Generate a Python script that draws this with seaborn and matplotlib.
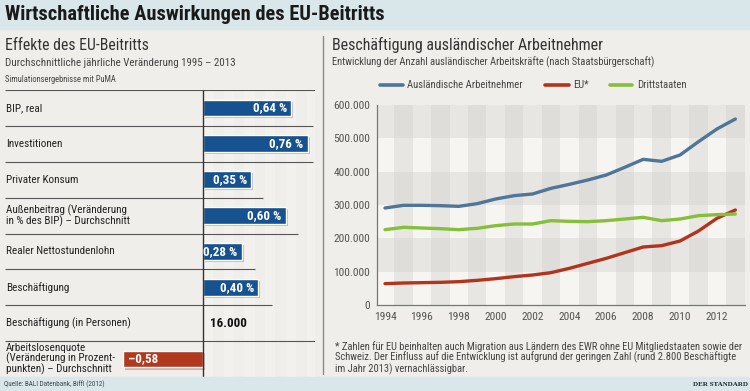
import numpy as np
import pandas as pd
import matplotlib
matplotlib.use("Agg")
import matplotlib.pyplot as plt
import matplotlib.patheffects as pe
import matplotlib.transforms as mtransforms
from matplotlib import font_manager
from matplotlib.lines import Line2D
from matplotlib.patches import Rectangle
from matplotlib.ticker import FuncFormatter, MultipleLocator
import seaborn as sns

# --- Daten: Effekte des EU-Beitritts ---
effekt_labels = ["BIP, real", "Investitionen", "Privater Konsum",
                 "Außenbeitrag (Veränderung\nin % des BIP) – Durchschnitt",
                 "Realer Nettostundenlohn", "Beschäftigung",
                 "Beschäftigung (in Personen)",
                 "Arbeitslosenquote\n(Veränderung in Prozent-\npunkten) – Durchschnitt"]
effekt_werte = [0.64, 0.76, 0.35, 0.60, 0.28, 0.40, np.nan, -0.58]
effekt_text = ["0,64 %", "0,76 %", "0,35 %", "0,60 %", "0,28 %", "0,40 %", "16.000", "–0,58"]

# --- Daten: Beschäftigung ausländischer Arbeitnehmer ---
jahre = list(range(1994, 2014))
auslaendisch = [291, 299, 299, 298, 296, 304, 318, 328, 333, 350, 362, 375, 390, 413, 437, 431, 450, 490, 528, 558]
eu = [64, 66, 67, 68, 70, 74, 79, 85, 90, 97, 110, 125, 140, 157, 174, 178, 192, 222, 260, 285]
drittstaaten = [226, 233, 231, 229, 226, 230, 238, 243, 243, 253, 251, 250, 253, 258, 263, 253, 258, 268, 271, 273]
serien = ["Ausländische Arbeitnehmer", "EU*", "Drittstaaten"]

W, H = 750, 391
def fx(x):
    return x / W
def fy(y):
    return 1 - y / H

sns.set_style("white")
installed = {f.name for f in font_manager.fontManager.ttflist}
schrift = next((n for n in ["Liberation Sans Narrow", "Roboto Condensed", "Open Sans Condensed",
                            "Lato", "Roboto"] if n in installed), "DejaVu Sans")
plt.rcParams['font.family'] = [schrift, 'DejaVu Sans']

BG = "#efeeea"
BAND = "#d9e7eb"
BLUE_BAR = "#15528f"
RED_BAR = "#b0391e"
farben = {"Ausländische Arbeitnehmer": "#4f7599", "EU*": "#b3341c", "Drittstaaten": "#86bf3a"}

fig = plt.figure(figsize=(7.5, 3.91), dpi=100, facecolor=BG)
renderer = fig.canvas.get_renderer()


def fit(t, breite):
    # Schriftgröße so wählen, dass der Text die Breite aus der Vorlage hat
    w = t.get_window_extent(renderer).width
    t.set_fontsize(t.get_fontsize() * breite / w)
    return t.get_fontsize()


# Kopf- und Fußband
fig.patches.append(Rectangle((0, fy(29)), 1, 29 / H, transform=fig.transFigure, color=BAND, zorder=0))
fig.patches.append(Rectangle((0, 0), 1, 14 / H, transform=fig.transFigure, color=BAND, zorder=0))
fit(fig.text(fx(5), fy(15), "Wirtschaftliche Auswirkungen des EU-Beitritts", fontsize=13,
             fontweight="bold", color="#1a1a1a", va="center"), 376)
fit(fig.text(fx(4), fy(384), "Quelle: BALI Datenbank, Biffl (2012)", fontsize=5.5, color="#444",
             va="center"), 100)
fit(fig.text(fx(748), fy(385), "DER STANDARD", fontsize=6.5, fontweight="bold", color="#222",
             va="center", ha="right", family="Liberation Serif"), 55)

# Trennlinie
fig.add_artist(Line2D([fx(323), fx(323)], [fy(36), fy(374)], color="#8a8a8a", lw=1))

# --- linkes Panel ---
fit(fig.text(fx(5), fy(46), "Effekte des EU-Beitritts", fontsize=11, color="#333", va="center"), 143)
fit(fig.text(fx(5), fy(63), "Durchschnittliche jährliche Veränderung 1995 – 2013", fontsize=8,
             color="#444", va="center"), 230)
fit(fig.text(fx(5), fy(80), "Simulationsergebnisse mit PuMA", fontsize=6, color="#444", va="center"), 112)

ax1 = fig.add_axes([fx(5), fy(377), 310 / W, 287 / H])
ax1.set_facecolor("none")
ax1.set_axis_off()

df_eff = pd.DataFrame({"Effekt": effekt_labels, "Wert": effekt_werte})
df_eff["Richtung"] = np.where(df_eff["Wert"] < 0, "neg", "pos")
df_plot = df_eff.dropna()
sns.barplot(data=df_plot, x="Wert", y="Effekt", hue="Richtung", order=effekt_labels,
            palette={"pos": BLUE_BAR, "neg": RED_BAR}, width=0.47, dodge=False,
            saturation=1, legend=False, ax=ax1, zorder=3)
for p in ax1.patches:
    p.set_path_effects([pe.SimplePatchShadow(offset=(1.5, -1.5), alpha=0.25), pe.Normal()])

x0 = (5 - 203) / 138
x1 = (315 - 203) / 138
ax1.set_xlim(x0, x1)
ax1.set_ylim(7.5, -0.5)

# Streifen hinter den Balken
for k, s in enumerate(np.arange(0, x1, 0.075)):
    if k % 2 == 0:
        ax1.axvspan(s, s + 0.075, color="white", alpha=0.2, lw=0, zorder=0)

trans = mtransforms.blended_transform_factory(ax1.transAxes, ax1.transData)
probe = ax1.text(0, 0, "Beschäftigung (in Personen)", fontsize=8)
fs_zeile = fit(probe, 125)
probe.remove()
probe = ax1.text(0, 0, "0,64 %", fontsize=8.5, fontweight="bold")
fs_wert = fit(probe, 34)
probe.remove()

for i, (lab, v, t) in enumerate(zip(effekt_labels, effekt_werte, effekt_text)):
    ax1.text(0.003, i, lab, transform=trans, va="center", ha="left", fontsize=fs_zeile,
             color="#222", linespacing=0.95)
    if np.isnan(v):
        ax1.text(0.05, i, t, va="center", ha="left", fontsize=fs_wert, fontweight="bold", color="#111")
    elif v > 0:
        ax1.text(v - 0.03, i, t, va="center", ha="right", fontsize=fs_wert, fontweight="bold",
                 color="white", zorder=5)
    else:
        ax1.text(v + 0.035, i, t, va="center", ha="left", fontsize=fs_wert, fontweight="bold",
                 color="white", zorder=5)

# Trennlinien zwischen den Zeilen (Endpunkte in Pixeln wie in der Vorlage)
linien_ende = [315, 313, 313, 263, 298, 255, 272, 318]
for i, xe in enumerate(linien_ende):
    ax1.hlines(i - 0.5, x0, (xe - 203) / 138, color="#555", lw=0.8)
ax1.vlines(0, -0.5, 7.5, color="#333", lw=1, zorder=4)

# --- rechtes Panel ---
fit(fig.text(fx(332), fy(45), "Beschäftigung ausländischer Arbeitnehmer", fontsize=11, color="#333",
             va="center"), 271)
fit(fig.text(fx(332), fy(62), "Entwicklung der Anzahl ausländischer Arbeitskräfte (nach Staatsbürgerschaft)",
             fontsize=8, color="#444", va="center"), 322)

ax2 = fig.add_axes([fx(377), fy(305), 368 / W, 200 / H])
ax2.set_facecolor("#f6f5f2")
for j in jahre:
    if j % 2 == 1:
        ax2.axvspan(j - 0.5, j + 0.5, color="#dedcd8", alpha=0.6, lw=0, zorder=0)
for lo in (100000, 300000, 500000):
    ax2.axhspan(lo, lo + 100000, color="#d6d4d0", alpha=0.45, lw=0, zorder=0)

df_lin = pd.DataFrame({"Jahr": jahre,
                       "Ausländische Arbeitnehmer": np.array(auslaendisch) * 1000,
                       "EU*": np.array(eu) * 1000,
                       "Drittstaaten": np.array(drittstaaten) * 1000})
df_long = df_lin.melt(id_vars="Jahr", var_name="Gruppe", value_name="Anzahl")
sns.lineplot(data=df_long, x="Jahr", y="Anzahl", hue="Gruppe", hue_order=serien,
             palette=farben, lw=2.4, legend=False, ax=ax2, zorder=3)

probe = fig.text(0, 0, "600.000", fontsize=8)
fs_tick = fit(probe, 37)
probe.remove()

ax2.set_xlim(1994 - 8 / 18.44, 1994 + 360 / 18.44)
ax2.set_ylim(0, 600000)
ax2.set_xlabel("")
ax2.set_ylabel("")
ax2.set_xticks(range(1994, 2013, 2))
ax2.xaxis.set_minor_locator(MultipleLocator(1))
ax2.set_yticks(range(0, 600001, 100000))
ax2.yaxis.set_major_formatter(FuncFormatter(lambda v, _: f"{int(v):,}".replace(",", ".")))
ax2.tick_params(axis="both", which="both", direction="out", length=3, width=0.8,
                color="#777", labelcolor="#555", labelsize=fs_tick, pad=2)
ax2.tick_params(axis="x", which="minor", length=3)
for side in ("top", "right"):
    ax2.spines[side].set_visible(False)
for side in ("left", "bottom"):
    ax2.spines[side].set_color("#777")
    ax2.spines[side].set_linewidth(0.9)

# Legende (von Hand gesetzt, Positionen wie in der Vorlage)
probe = fig.text(0, 0, "Ausländische Arbeitnehmer", fontsize=8)
fs_leg = fit(probe, 116)
probe.remove()
for s, (l0, l1, tx) in zip(serien, [(380, 403, 407), (545, 569, 573), (610, 632, 637)]):
    fig.add_artist(Line2D([fx(l0), fx(l1)], [fy(85), fy(85)], color=farben[s], lw=2.6,
                          solid_capstyle="round"))
    fig.text(fx(tx), fy(85), s, fontsize=fs_leg, color="#444", va="center")

fn = fig.text(fx(335), fy(358),
              "* Zahlen für EU beinhalten auch Migration aus Ländern des EWR ohne EU Mitgliedstaaten sowie der\n"
              "Schweiz. Der Einfluss auf die Entwicklung ist aufgrund der geringen Zahl (rund 2.800 Beschäftigte\n"
              "im Jahr 2013) vernachlässigbar.",
              fontsize=7.5, color="#444", va="center", linespacing=1.0)
fit(fn, 408)

fig.savefig("out.png", dpi=100, facecolor=BG)
